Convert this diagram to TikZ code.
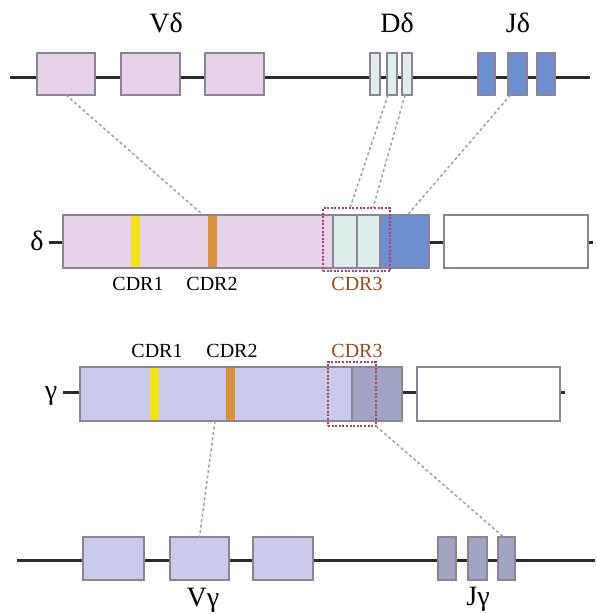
\documentclass[tikz,border=0pt]{standalone}
\usepackage{fontspec}
\setmainfont{Liberation Serif}
\usetikzlibrary{calc}
\definecolor{chromline}{HTML}{2B2B2B}
\definecolor{boxline}{HTML}{8A8496}
\definecolor{vdpink}{HTML}{E6D3E8}
\definecolor{ddcyan}{HTML}{DDEDEA}
\definecolor{jdblue}{HTML}{6E8FCF}
\definecolor{vglav}{HTML}{C9CBE8}
\definecolor{jggray}{HTML}{A2A5C2}
\definecolor{cdryellow}{HTML}{F2E21C}
\definecolor{cdrorange}{HTML}{D8913E}
\definecolor{cdrbrown}{HTML}{9A4A18}
\definecolor{cdrred}{HTML}{B8386A}
\definecolor{linkgray}{HTML}{A0A0A0}
\begin{document}
\begin{tikzpicture}[x=1pt,y=-1pt,
  chrom/.style={draw=chromline,line width=3pt},
  gene/.style={draw=boxline,line width=1.1pt,inner sep=0pt,outer sep=0pt,anchor=north west},
  stripe/.style={inner sep=0pt,outer sep=0pt,anchor=north west,minimum width=9pt,minimum height=51pt},
  cdrframe/.style={draw=cdrred,line width=2.6pt,dash pattern=on 2pt off 1.6pt,inner sep=0pt,outer sep=0pt,anchor=north west},
  link/.style={draw=linkgray,line width=1.5pt,dash pattern=on 3pt off 2.5pt},
  big/.style={font=\fontsize{28}{30}\selectfont,anchor=base,inner sep=0pt},
  small/.style={font=\fontsize{20}{22}\selectfont,anchor=base,inner sep=0pt}]
\useasboundingbox (0,0) rectangle (597,614);

% ---------- germline delta locus ----------
\coordinate (tl) at (10,77);
\coordinate (tr) at (590,77);
\draw[chrom] (tl) -- (tr);
\node[gene,fill=vdpink,minimum width=58pt,minimum height=42pt] (vd1) at (37,53) {};
\node[gene,fill=vdpink,minimum width=59pt,minimum height=42pt] (vd2) at (121,53) {};
\node[gene,fill=vdpink,minimum width=59pt,minimum height=42pt] (vd3) at (205,53) {};
\node[gene,fill=ddcyan,minimum width=10pt,minimum height=42pt] (dd1) at (370,53) {};
\node[gene,fill=ddcyan,minimum width=10pt,minimum height=42pt] (dd2) at (387,53) {};
\node[gene,fill=ddcyan,minimum width=10pt,minimum height=42pt] (dd3) at (402,53) {};
\node[gene,fill=jdblue,minimum width=17pt,minimum height=42pt] (jd1) at (478,53) {};
\node[gene,fill=jdblue,minimum width=19pt,minimum height=42pt] (jd2) at (508,53) {};
\node[gene,fill=jdblue,minimum width=18pt,minimum height=42pt] (jd3) at (537,53) {};
\node[big] (lvd) at (166,32) {Vδ};
\node[big] (ldd) at (397,32) {Dδ};
\node[big] (ljd) at (518,32) {Jδ};

% ---------- rearranged delta chain ----------
\coordinate (dl) at (49,242);
\coordinate (dr) at (593,242);
\draw[chrom] (dl) -- (dr);
\node[gene,fill=vdpink,minimum width=270pt,minimum height=53pt] (dV) at (63,215) {};
\node[gene,fill=ddcyan,minimum width=24pt,minimum height=53pt] (dD1) at (333,215) {};
\node[gene,fill=ddcyan,minimum width=23pt,minimum height=53pt] (dD2) at (357,215) {};
\node[gene,fill=jdblue,minimum width=49pt,minimum height=53pt] (dJ) at (380,215) {};
\node[gene,fill=white,minimum width=144pt,minimum height=53pt] (dC) at (444,215) {};
\node[stripe,fill=cdryellow] (dcdr1) at (131,216) {};
\node[stripe,fill=cdrorange] (dcdr2) at (208,216) {};
\node[cdrframe,minimum width=67pt,minimum height=63pt] (dcdr3) at (323,208) {};
\node[big] (ldelta) at (37,250) {δ};
\node[small] (ld1) at (138,290) {CDR1};
\node[small] (ld2) at (212,290) {CDR2};
\node[small,text=cdrbrown] (ld3) at (357,290) {CDR3};

% ---------- rearranged gamma chain ----------
\coordinate (gl) at (63,392);
\coordinate (gr) at (565,392);
\draw[chrom] (gl) -- (gr);
\node[gene,fill=vglav,minimum width=272pt,minimum height=54pt] (gV) at (80,367) {};
\node[gene,fill=jggray,minimum width=50pt,minimum height=54pt] (gJ) at (352,367) {};
\node[gene,fill=white,minimum width=143pt,minimum height=54pt] (gC) at (417,367) {};
\node[stripe,fill=cdryellow,minimum height=52pt] (gcdr1) at (150,368) {};
\node[stripe,fill=cdrorange,minimum height=52pt] (gcdr2) at (226,368) {};
\node[cdrframe,minimum width=48pt,minimum height=64pt] (gcdr3) at (328,362) {};
\node[big] (lgamma) at (51,399) {γ};
\node[small] (lg1) at (157,357) {CDR1};
\node[small] (lg2) at (232,357) {CDR2};
\node[small,text=cdrbrown] (lg3) at (357,357) {CDR3};

% ---------- germline gamma locus ----------
\coordinate (bl) at (17,560);
\coordinate (br) at (595,560);
\draw[chrom] (bl) -- (br);
\node[gene,fill=vglav,minimum width=61pt,minimum height=43pt] (vg1) at (83,537) {};
\node[gene,fill=vglav,minimum width=59pt,minimum height=43pt] (vg2) at (170,537) {};
\node[gene,fill=vglav,minimum width=60pt,minimum height=43pt] (vg3) at (253,537) {};
\node[gene,fill=jggray,minimum width=18pt,minimum height=43pt] (jg1) at (438,537) {};
\node[gene,fill=jggray,minimum width=19pt,minimum height=43pt] (jg2) at (468,537) {};
\node[gene,fill=jggray,minimum width=17pt,minimum height=43pt] (jg3) at (498,537) {};
\node[big] (lvg) at (203,606) {Vγ};
\node[big] (ljg) at (478,605) {Jγ};

% ---------- segment-to-chain links ----------
\draw[link] (vd1.south) -- ($(dV.north west)+(140,0)$);
\draw[link] ($(dd2.south)+(-4,0)$) -- ($(dcdr3.north west)+(27,0)$);
\draw[link] ($(dd3.south)+(-2,0)$) -- ($(dcdr3.north west)+(50,0)$);
\draw[link] ($(jd2.south)+(-7,0)$) -- ($(dJ.north)+(3,0)$);
\draw[link] ($(gV.south west)+(135,0)$) -- (vg2.north);
\draw[link] (gcdr3.south east) -- ($(jg3.north)+(-3,0)$);
\end{tikzpicture}
\end{document}
